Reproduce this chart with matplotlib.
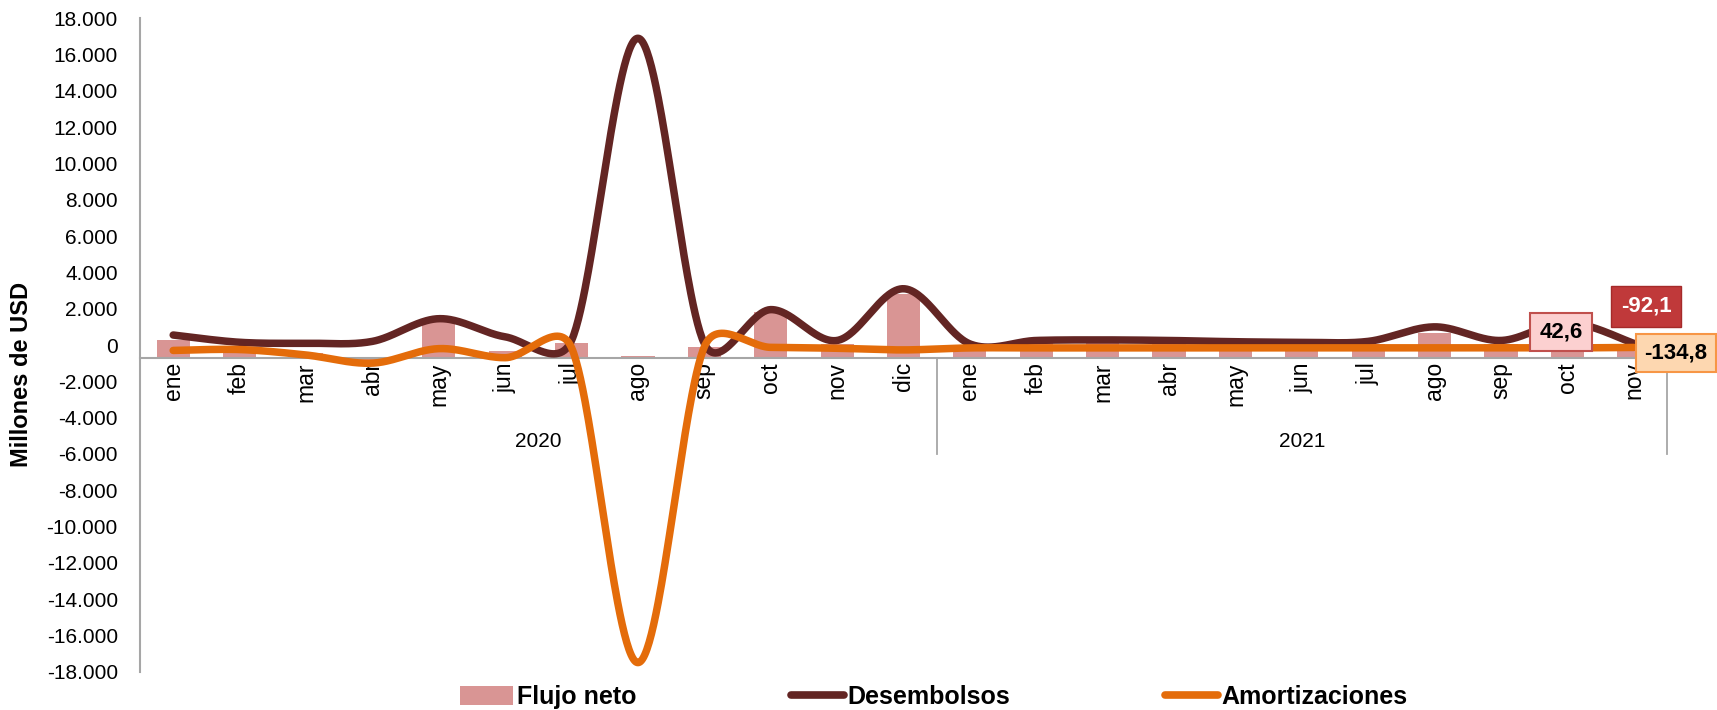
import numpy as np
import matplotlib
matplotlib.use("Agg")
import matplotlib.pyplot as plt
from matplotlib.ticker import FuncFormatter, MultipleLocator
from matplotlib.lines import Line2D
from matplotlib.patches import Patch

# ---------------- data ----------------
months = ['ene', 'feb', 'mar', 'abr', 'may', 'jun', 'jul', 'ago', 'sep', 'oct', 'nov', 'dic']
categories = months + months[:11]
years = ['2020', '2021']
year_counts = [12, 11]

flujo_neto = [250, -100, -450, -850, 1450, -350, 100, -600, -130, 1820, 80, 2830,
              -120, 100, 100, 70, 0, -30, 70, 650, 70, 1100, -42.6]
desembolsos = [550, 150, 100, 200, 1450, 450, 250, 16900, 80, 1950, 250, 3100,
               60, 250, 280, 250, 180, 150, 200, 1000, 250, 1250, 92.1]
amortizaciones = [-300, -250, -550, -1000, -200, -700, -150, -17500, -100, -130, -180, -270,
                  -160, -160, -160, -160, -160, -160, -160, -160, -160, -160, -134.8]

box_labels = ['-92,1', '42,6', '-134,8']

# ---------------- style ----------------
C_BAR = '#d99594'
C_DES = '#632523'
C_AMO = '#e46c0a'
AX_GRAY = '#a6a6a6'
REG = ['Liberation Sans', 'DejaVu Sans']
AXIS_CROSS = -720

W, H = 1717, 710
fig = plt.figure(figsize=(W / 100, H / 100), dpi=100)
ax = fig.add_axes([140 / W, 1 - 671.7 / H, (1667 - 140) / W, (671.7 - 18.3) / H])
ax.set_xlim(-0.5, len(categories) - 0.5)
ax.set_ylim(-18000, 18000)

x = np.arange(len(categories))
ax.bar(x, np.array(flujo_neto) - AXIS_CROSS, bottom=AXIS_CROSS, width=0.5,
       color=C_BAR, zorder=1, label='Flujo neto')


def excel_smooth(xs, ys, n=60):
    pts = ax.transData.transform(np.column_stack([xs, ys]))
    N = len(pts)
    out = []
    t = np.linspace(0, 1, n)[:, None]
    for i in range(N - 1):
        p0 = pts[i - 1] if i > 0 else pts[i]
        p1 = pts[i]
        p2 = pts[i + 1]
        p3 = pts[i + 2] if i + 2 < N else pts[i + 1]
        d12 = np.hypot(*(p2 - p1))
        v1 = (p2 - p0) / 6.0
        v2 = (p3 - p1) / 6.0
        l1 = np.hypot(*v1)
        l2 = np.hypot(*v2)
        if l1 > d12 / 2:
            v1 = v1 * (d12 / 2) / l1
        if l2 > d12 / 2:
            v2 = v2 * (d12 / 2) / l2
        c1 = p1 + v1
        c2 = p2 - v2
        seg = ((1 - t) ** 3) * p1 + 3 * t * (1 - t) ** 2 * c1 + 3 * t ** 2 * (1 - t) * c2 + t ** 3 * p2
        out.append(seg if i == 0 else seg[1:])
    out = np.vstack(out)
    return ax.transData.inverted().transform(out)


sd = excel_smooth(x, desembolsos)
sa = excel_smooth(x, amortizaciones)
ax.plot(sd[:, 0], sd[:, 1], color=C_DES, lw=5.4, solid_capstyle='round', zorder=3)
ax.plot(sa[:, 0], sa[:, 1], color=C_AMO, lw=5.4, solid_capstyle='round', zorder=4)

# spines
for s in ['top', 'right']:
    ax.spines[s].set_visible(False)
ax.spines['left'].set_color(AX_GRAY)
ax.spines['left'].set_linewidth(1.5)
ax.spines['bottom'].set_position(('data', AXIS_CROSS))
ax.spines['bottom'].set_color(AX_GRAY)
ax.spines['bottom'].set_linewidth(1.5)
ax.spines['bottom'].set_zorder(2)

# y ticks
ax.yaxis.set_major_locator(MultipleLocator(2000))
ax.yaxis.set_major_formatter(FuncFormatter(lambda v, p: f"{int(round(v)):,}".replace(",", ".")))
ax.tick_params(axis='y', length=0, pad=16)
for lab in ax.get_yticklabels():
    lab.set_fontfamily(REG)
    lab.set_fontsize(15)

# x ticks
ax.set_xticks(x)
ax.set_xticklabels(categories, rotation=90, fontsize=16.5, family=REG, va='top', ha='center')
ax.tick_params(axis='x', length=0, pad=3)

# year group labels and separators
start = 0
for yr, cnt in zip(years, year_counts):
    mid = start + (cnt - 1) / 2
    ax.text(mid, -5300, yr, ha='center', va='center', fontsize=15, family=REG)
    ax.plot([start + cnt - 0.5, start + cnt - 0.5], [AXIS_CROSS, -6000],
            color=AX_GRAY, lw=1.3, clip_on=False, zorder=2)
    start += cnt

# y label
fig.text(22 / W, 1 - 374 / H, 'Millones de USD', rotation=90, fontsize=17,
         fontweight='bold', family=REG, ha='center', va='center')

# value boxes
fig.text(1646 / W, 1 - 306 / H, box_labels[0], color='white', fontsize=16,
         fontweight='bold', family=REG, ha='center', va='center', zorder=10,
         bbox=dict(boxstyle='square,pad=0.45', fc='#c0393a', ec='#a52a2a', lw=1))
fig.text(1561 / W, 1 - 332 / H, box_labels[1], color='black', fontsize=16,
         fontweight='bold', family=REG, ha='center', va='center', zorder=10,
         bbox=dict(boxstyle='square,pad=0.4', fc='#fcd0d0', ec='#c0504d', lw=1.5))
fig.text(1676 / W, 1 - 353 / H, box_labels[2], color='black', fontsize=16,
         fontweight='bold', family=REG, ha='center', va='center', zorder=10,
         bbox=dict(boxstyle='square,pad=0.4', fc='#fdd7b0', ec='#f79646', lw=1.5))

# legend
handles = [Patch(facecolor=C_BAR, edgecolor='none'),
           Line2D([0], [0], color=C_DES, lw=5.5, solid_capstyle='round'),
           Line2D([0], [0], color=C_AMO, lw=5.5, solid_capstyle='round')]
leg = fig.legend(handles, ['Flujo neto', 'Desembolsos', 'Amortizaciones'],
                 loc='center', bbox_to_anchor=(934 / W, 1 - 697 / H), ncol=3,
                 frameon=False, handlelength=2.1, handleheight=0.8, handletextpad=0.15,
                 columnspacing=6.2, borderpad=0,
                 prop={'family': REG, 'weight': 'bold', 'size': 18})

fig.savefig('out.png', dpi=100, facecolor='white')
